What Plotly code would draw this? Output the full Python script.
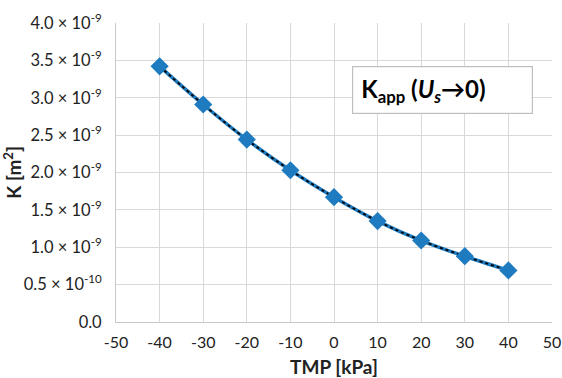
import plotly.graph_objects as go

tmp = [-40, -30, -20, -10, 0, 10, 20, 30, 40]
k_vals = [3.42e-9, 2.91e-9, 2.44e-9, 2.03e-9, 1.67e-9, 1.35e-9, 1.09e-9, 0.88e-9, 0.69e-9]

y_tickvals = [0, 0.5e-9, 1.0e-9, 1.5e-9, 2.0e-9, 2.5e-9, 3.0e-9, 3.5e-9, 4.0e-9]
y_ticktext = ["0.0", "0.5 × 10<sup>-10</sup>", "1.0 × 10<sup>-9</sup>", "1.5 × 10<sup>-9</sup>",
              "2.0 × 10<sup>-9</sup>", "2.5 × 10<sup>-9</sup>", "3.0 × 10<sup>-9</sup>",
              "3.5 × 10<sup>-9</sup>", "4.0 × 10<sup>-9</sup>"]
x_tickvals = [-50, -40, -30, -20, -10, 0, 10, 20, 30, 40, 50]
x_ticktext = ["-50", "-40", "-30", "-20", "-10", "0", "10", "20", "30", "40", "50"]

blue = "#1f7bbf"
font = "Lato, 'Open Sans', sans-serif"

fig = go.Figure()
fig.add_trace(go.Scatter(x=tmp, y=k_vals, mode="lines", line=dict(color=blue, width=3.5, shape="spline"),
                         showlegend=False, hoverinfo="skip"))
fig.add_trace(go.Scatter(x=tmp, y=k_vals, mode="lines+markers",
                         line=dict(color="black", width=1.8, dash="dot", shape="spline"),
                         marker=dict(symbol="diamond", size=14, color=blue),
                         showlegend=False))

fig.update_layout(
    width=562, height=378,
    margin=dict(l=116, r=10, t=23, b=56),
    paper_bgcolor="white", plot_bgcolor="white",
    font=dict(family=font, size=16, color="#222"),
    xaxis=dict(range=[-50, 50], tickvals=x_tickvals, ticktext=x_ticktext, showgrid=True,
               gridcolor="#d9d9d9", automargin=False, tickfont=dict(size=16),
               ticklabelstandoff=6,
               showline=True, linecolor="#c8c8c8", zeroline=False, ticks="",
               title=dict(text="<b>TMP [kPa]</b>", font=dict(size=19, color="#222"), standoff=14)),
    yaxis=dict(range=[0, 4.0e-9], tickvals=y_tickvals, ticktext=y_ticktext, showgrid=True,
               gridcolor="#d9d9d9", showline=True, linecolor="#c8c8c8", zeroline=False, ticks="",
               ticklabelstandoff=10, automargin=False, tickfont=dict(size=16.5)),
    annotations=[
        dict(x=-0.238, y=0.5, xref="paper", yref="paper", xanchor="center", yanchor="middle",
             text="<b>K [m<sup>2</sup>]</b>", showarrow=False, textangle=-90,
             font=dict(size=19, color="#222", family=font)),
        dict(
        x=0.748, y=0.775, xref="paper", yref="paper", xanchor="center", yanchor="middle",
        text="<b>K<sub>app</sub> (<i>U<sub>s</sub></i>→0)</b>", showarrow=False, align="left",
        font=dict(size=24, color="black", family=font),
        width=163, height=30,
        bgcolor="white", bordercolor="#bfbfbf", borderwidth=1.2, borderpad=8,
    )],
)

fig.write_html("out.html")
